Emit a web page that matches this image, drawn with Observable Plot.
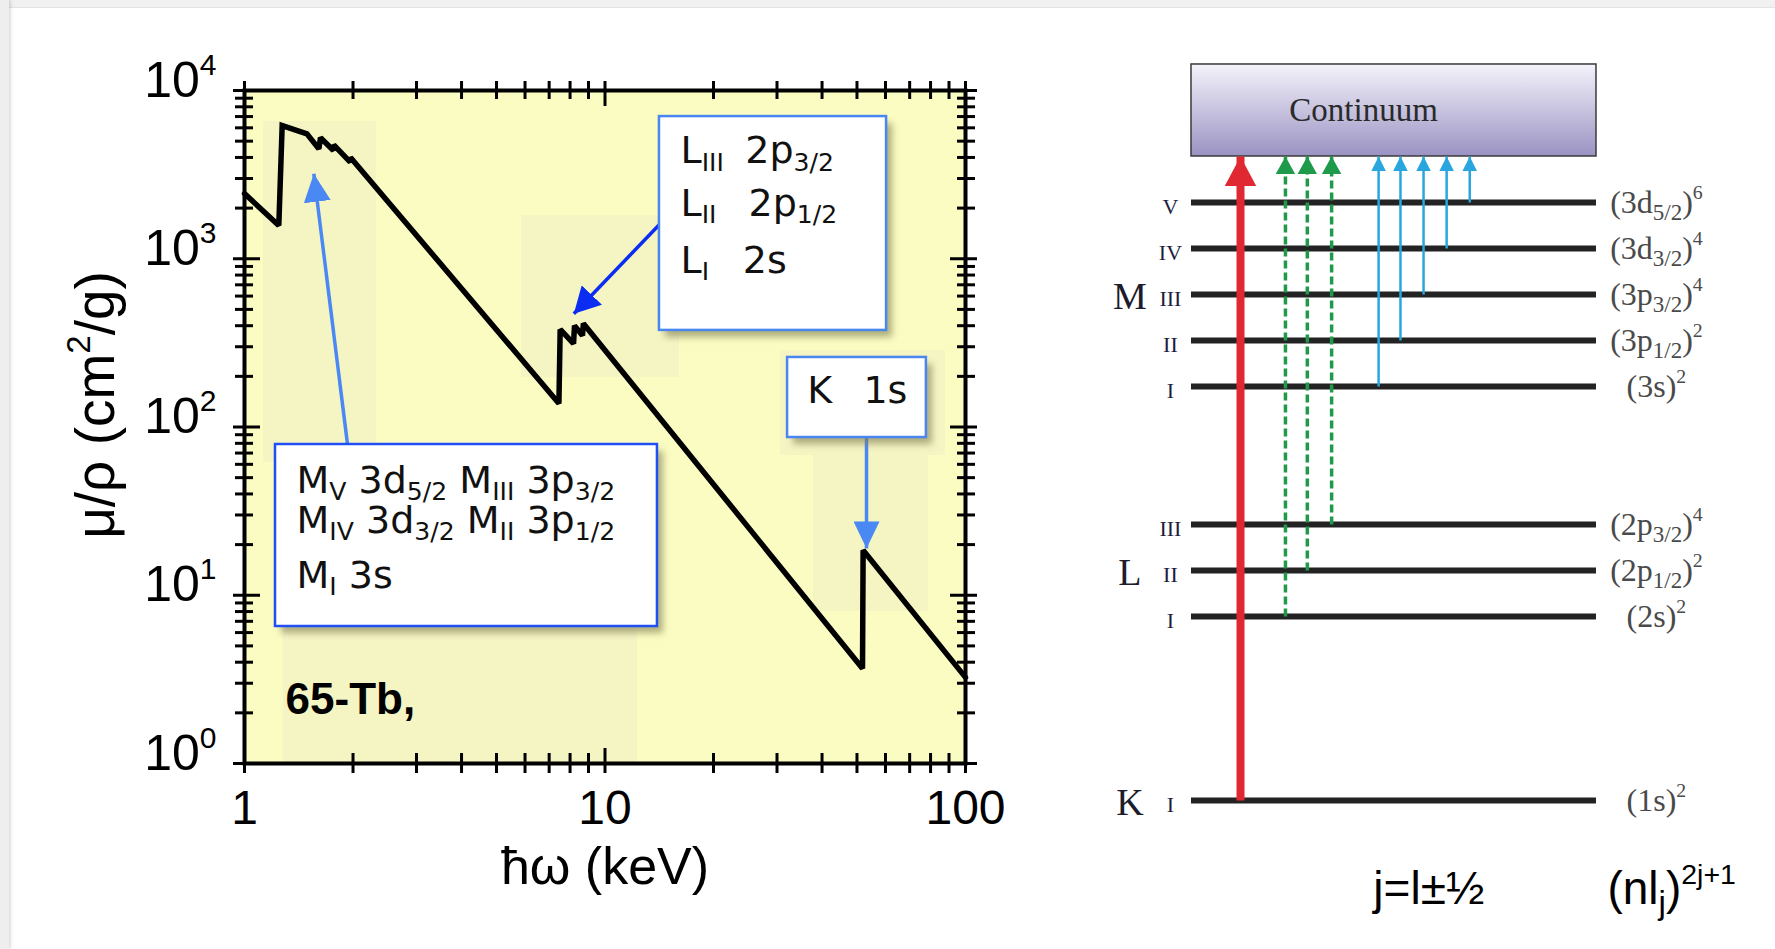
<!DOCTYPE html>
<html>
<head>
<meta charset="utf-8">
<script src="https://cdn.jsdelivr.net/npm/d3@7"></script>
<script src="https://cdn.jsdelivr.net/npm/@observablehq/plot@0.6"></script>
<style>
  html, body { margin: 0; padding: 0; background: #ffffff; }
  body { width: 1775px; height: 949px; position: relative; overflow: hidden; }
  .edge-top { position: absolute; left: 0; top: 0; width: 1775px; height: 7px; background: #f1f1f1; border-bottom: 1px solid #e4e4e4; }
  .edge-left { position: absolute; left: 0; top: 0; width: 9px; height: 949px; background: #eeeeee; box-shadow: 1px 0 4px rgba(0,0,0,0.2); }
  #left { position: absolute; left: 0; top: 0; }
  #right { position: absolute; left: 1000px; top: 0; }
</style>
</head>
<body>
<div class="edge-top"></div>
<div class="edge-left"></div>
<div id="left"></div>
<div id="right"></div>
<script>
// ---------------- DATA (left panel: 65-Tb mass attenuation) ----------------
const energyKeV = [1.0, 1.245, 1.272, 1.49, 1.608, 1.625, 1.765, 1.768, 1.965, 1.968, 7.45, 7.51, 8.18, 8.23, 8.66, 8.71, 51.8, 52.0, 100];
const muRho     = [2440, 1577, 6190, 5530, 4500, 5240, 4400, 4750, 3750, 4000, 138, 380, 313, 400, 350, 412, 3.67, 18.5, 3.25];

const yMajor = [1, 10, 100, 1000, 10000];
const xMajor = [1, 10, 100];
const minorMultipliers = [2, 3, 4, 5, 6, 7, 8, 9];

const xAxisLabel = "ħω (keV)";
const yAxisLabel = "μ/ρ (cm^{2}/g)";
const sampleLabel = "65-Tb,";
const sampleLabelAt = [1.30, 1.98];

// faint background zones (keV, cm2/g)
const zoneX1 = [1.129, 5.87, 1.28, 37.9, 30.7];
const zoneX2 = [2.32, 16.1, 12.3, 78.9, 88.0];
const zoneY1 = [61.5, 197, 1, 8.0, 67.7];
const zoneY2 = [6550, 1807, 6.34, 87.8, 285];

// callout boxes: M, L, K
const boxX1 = [1.219, 14.16, 32.1];
const boxX2 = [13.98, 60.4, 77.9];
const boxY1 = [6.52, 375, 86.6];
const boxY2 = [78.7, 7000, 259];

// callout arrows: M, L, K
const arrowX1 = [1.931, 14.16, 53.14];
const arrowY1 = [78.7, 1598, 86.6];
const arrowX2 = [1.557, 8.195, 53.14];
const arrowY2 = [3199, 471, 18.97];

// callout texts
const calloutText = ["M_{V} 3d_{5/2} M_{III} 3p_{3/2}", "M_{IV} 3d_{3/2} M_{II} 3p_{1/2}", "M_{I} 3s",
                     "L_{III}", "2p_{3/2}", "L_{II}", "2p_{1/2}", "L_{I}", "2s", "K", "1s"];
const calloutX = [1.394, 1.394, 1.394, 16.2, 24.5, 16.2, 25.0, 16.2, 24.1, 36.4, 52.1];
const calloutY = [40.8, 23.6, 11.1, 3683, 3683, 1807, 1807, 828, 828, 138, 138];

// ---------------- DATA (right panel: level diagram) ----------------
const levelShell  = ["K", "L", "L", "L", "M", "M", "M", "M", "M"];
const levelSub    = ["I", "I", "II", "III", "I", "II", "III", "IV", "V"];
const levelHeight = [0, 4, 5, 6, 9, 10, 11, 12, 13];
const levelConfig = ["(1s)^{2}", "(2s)^{2}", "(2p_{1/2})^{2}", "(2p_{3/2})^{4}", "(3s)^{2}", "(3p_{1/2})^{2}", "(3p_{3/2})^{4}", "(3d_{3/2})^{4}", "(3d_{5/2})^{6}"];
const arrowSlot   = [12.1, 23.2, 28.6, 34.6, 46.2, 51.6, 57.3, 63.0, 68.7];
const continuumSpan = [14, 16];
const lineSpan = [0, 100];
const continuumLabel = "Continuum";
const continuumLabelAt = 42.5;
const shellNames = ["K", "L", "M"];
const shellAtLevel = [0, 2, 6];   // index into the level arrays
const noteRule = "j=l±½";
const noteConfig = "(nl_{j})^{2j+1}";

// ---------------- helpers ----------------
const NS = "http://www.w3.org/2000/svg";
function triMarker(len, wid) {
  return (color, context) => {
    const doc = (context && context.document) || document;
    const m = doc.createElementNS(NS, "marker");
    m.setAttribute("viewBox", `0 ${-wid / 2} ${len} ${wid}`);
    m.setAttribute("refX", len);
    m.setAttribute("refY", 0);
    m.setAttribute("markerWidth", len);
    m.setAttribute("markerHeight", wid);
    m.setAttribute("markerUnits", "userSpaceOnUse");
    m.setAttribute("orient", "auto");
    const p = doc.createElementNS(NS, "path");
    p.setAttribute("d", `M0,${-wid / 2}L${len},0L0,${wid / 2}Z`);
    p.setAttribute("fill", color);
    p.setAttribute("stroke", "none");
    p.setAttribute("stroke-dasharray", "none");
    m.appendChild(p);
    return m;
  };
}

function richText(root, subScale = 0.66, subShift = 0.2, supScale = 0.6, supShift = 0.44) {
  root.querySelectorAll("text, tspan").forEach(el => {
    if (el.children.length) return;
    const s = el.textContent;
    if (!/[_^]\{/.test(s)) return;
    const fs = parseFloat(getComputedStyle(el).fontSize) || 16;
    const re = /([_^])\{([^}]*)\}/g;
    const parts = [];
    let last = 0, m;
    while ((m = re.exec(s))) {
      if (m.index > last) parts.push(["n", s.slice(last, m.index)]);
      parts.push([m[1] === "_" ? "sub" : "sup", m[2]]);
      last = re.lastIndex;
    }
    if (last < s.length) parts.push(["n", s.slice(last)]);
    el.textContent = "";
    let cur = 0;
    for (const [k, txt] of parts) {
      const ts = document.createElementNS(NS, "tspan");
      const target = k === "sub" ? subShift * fs : k === "sup" ? -supShift * fs : 0;
      ts.setAttribute("dy", (target - cur).toFixed(2));
      cur = target;
      if (k !== "n") ts.setAttribute("font-size", ((k === "sub" ? subScale : supScale) * fs).toFixed(1));
      ts.textContent = txt;
      el.appendChild(ts);
    }
  });
}

const yMinor = yMajor.slice(0, -1).flatMap(p => minorMultipliers.map(m => m * p));
const xMinor = xMajor.slice(0, -1).flatMap(p => minorMultipliers.map(m => m * p));
const idx = n => d3.range(n);

// ---------------- LEFT PANEL ----------------
const calloutFont = "'DejaVu Sans', Verdana, sans-serif";
const leftDefs = () => {
  const g = document.createElementNS(NS, "g");
  g.innerHTML = `<defs><filter id="softShadow" x="-10%" y="-10%" width="130%" height="130%"><feGaussianBlur stdDeviation="3.5"/></filter></defs>`;
  return g;
};
const tickStyle = {fill: "none", stroke: "#000", strokeWidth: 3};

const left = Plot.plot({
  width: 1000, height: 949,
  marginLeft: 244, marginRight: 35, marginTop: 90, marginBottom: 186,
  style: {fontFamily: "'Liberation Sans', Arial, sans-serif", background: "transparent", color: "#000", overflow: "visible"},
  x: {type: "log", domain: [1, 100]},
  y: {type: "log", domain: [1, 10000]},
  marks: [
    leftDefs,
    Plot.frame({fill: "#fbfcc2", stroke: "none"}),
    Plot.rect(idx(zoneX1.length), {x1: i => zoneX1[i], x2: i => zoneX2[i], y1: i => zoneY1[i], y2: i => zoneY2[i], fill: "#f5f4c3"}),
    Plot.line(idx(energyKeV.length), {x: i => energyKeV[i], y: i => muRho[i], stroke: "#000", strokeWidth: 5.5, strokeLinejoin: "miter", strokeMiterlimit: 2}),
    Plot.text([sampleLabel], {x: () => sampleLabelAt[0], y: () => sampleLabelAt[1], text: d => d, textAnchor: "start", lineAnchor: "bottom", fontSize: 44, fontWeight: "bold", fill: "#000"}),
    // arrows (tails tucked under boxes)
    Plot.link([0], {x1: i => arrowX1[i], y1: i => arrowY1[i], x2: i => arrowX2[i], y2: i => arrowY2[i], stroke: "#4a88f4", strokeWidth: 3.5, markerEnd: triMarker(28, 27)}),
    Plot.link([1], {x1: i => arrowX1[i], y1: i => arrowY1[i], x2: i => arrowX2[i], y2: i => arrowY2[i], stroke: "#0b2df2", strokeWidth: 3.5, markerEnd: triMarker(26, 28)}),
    Plot.link([2], {x1: i => arrowX1[i], y1: i => arrowY1[i], x2: i => arrowX2[i], y2: i => arrowY2[i], stroke: "#4a88f4", strokeWidth: 3.5, markerEnd: triMarker(27, 26)}),
    // box shadows
    Plot.rect(idx(boxX1.length), {x1: i => boxX1[i], x2: i => boxX2[i], y1: i => boxY1[i], y2: i => boxY2[i], fill: "#7d7a4e", fillOpacity: 0.6, dx: 6, dy: 7}),
    // boxes
    Plot.rect([0], {x1: i => boxX1[i], x2: i => boxX2[i], y1: i => boxY1[i], y2: i => boxY2[i], fill: "#ffffff", stroke: "#1f4ff5", strokeWidth: 2.5}),
    Plot.rect([1, 2], {x1: i => boxX1[i], x2: i => boxX2[i], y1: i => boxY1[i], y2: i => boxY2[i], fill: "#ffffff", stroke: "#4a86f0", strokeWidth: 2.5}),
    Plot.text(idx(calloutText.length), {x: i => calloutX[i], y: i => calloutY[i], text: i => calloutText[i], textAnchor: "start", lineAnchor: "bottom", fontSize: 38, fontFamily: calloutFont, fill: "#111"}),
    // ticks crossing the frame on all four sides
    Plot.axisY(yMajor, {anchor: "left", tickSize: 27, dx: 16, ...tickStyle}),
    Plot.axisY(yMinor, {anchor: "left", tickSize: 18, dx: 9, ...tickStyle}),
    Plot.axisY(yMajor, {anchor: "right", tickSize: 27, dx: -16, ...tickStyle}),
    Plot.axisY(yMinor, {anchor: "right", tickSize: 18, dx: -9, ...tickStyle}),
    Plot.axisX(xMajor, {anchor: "bottom", tickSize: 25, dy: -15, ...tickStyle}),
    Plot.axisX(xMinor, {anchor: "bottom", tickSize: 20, dy: -10, ...tickStyle}),
    Plot.axisX(xMajor, {anchor: "top", tickSize: 25, dy: 15, ...tickStyle}),
    Plot.axisX(xMinor, {anchor: "top", tickSize: 18, dy: 8, ...tickStyle}),
    // tick labels
    Plot.axisY(yMajor, {anchor: "left", tickSize: 0, tickPadding: 28, dy: -10, fontSize: 50, tickFormat: d => `10^{${Math.round(Math.log10(d))}}`, label: null}),
    Plot.axisX(xMajor, {anchor: "bottom", tickSize: 0, tickPadding: 26, fontSize: 48, tickFormat: d => `${d}`, label: null}),
    // axis titles
    Plot.text([yAxisLabel], {frameAnchor: "left", dx: -148, dy: -22, rotate: -90, text: d => d, fontSize: 55, textAnchor: "middle", lineAnchor: "middle", fill: "#000"}),
    Plot.text([xAxisLabel], {frameAnchor: "bottom", dy: 120, text: d => d, fontSize: 52, textAnchor: "middle", lineAnchor: "bottom", fill: "#000"}),
    Plot.frame({stroke: "#000", strokeWidth: 4})
  ]
});
document.getElementById("left").appendChild(left);
left.querySelectorAll('g[fill="#7d7a4e"]').forEach(g => g.setAttribute("filter", "url(#softShadow)"));
richText(left);

// ---------------- RIGHT PANEL ----------------
const serif = "'Liberation Serif', 'DejaVu Serif', serif";
const rightDefs = () => {
  const g = document.createElementNS(NS, "g");
  g.innerHTML = `<defs><linearGradient id="contGrad" x1="0" y1="0" x2="0" y2="1">
    <stop offset="0" stop-color="#f4f3fb"/><stop offset="1" stop-color="#9a93c3"/></linearGradient></defs>`;
  return g;
};
const right = Plot.plot({
  width: 775, height: 949, margin: 0,
  style: {fontFamily: serif, background: "transparent", color: "#222", overflow: "visible"},
  x: {domain: [-47.16, 144.2], axis: null},
  y: {domain: [-3.239, 17.391], axis: null},
  marks: [
    rightDefs,
    Plot.rect([0], {x1: () => lineSpan[0], x2: () => lineSpan[1], y1: () => continuumSpan[0], y2: () => continuumSpan[1], fill: "url(#contGrad)", stroke: "#3a3a3a", strokeWidth: 1.5}),
    Plot.text([continuumLabel], {x: () => continuumLabelAt, y: () => (continuumSpan[0] + continuumSpan[1]) / 2, text: d => d, fontSize: 33, fill: "#2a2a2a"}),
    Plot.ruleY(idx(levelHeight.length), {y: i => levelHeight[i], x1: () => lineSpan[0], x2: () => lineSpan[1], stroke: "#232323", strokeWidth: 6}),
    Plot.link([0], {x1: i => arrowSlot[i], x2: i => arrowSlot[i], y1: i => levelHeight[i], y2: () => continuumSpan[0], stroke: "#e02832", strokeWidth: 8, markerEnd: triMarker(30, 32)}),
    Plot.link([1, 2, 3], {x1: i => arrowSlot[i], x2: i => arrowSlot[i], y1: i => levelHeight[i], y2: () => continuumSpan[0], stroke: "#1f9a4b", strokeWidth: 3.5, strokeDasharray: "8,4", markerEnd: triMarker(18, 20)}),
    Plot.link([4, 5, 6, 7, 8], {x1: i => arrowSlot[i], x2: i => arrowSlot[i], y1: i => levelHeight[i], y2: () => continuumSpan[0], stroke: "#29a6de", strokeWidth: 2.5, markerEnd: triMarker(15, 15)}),
    Plot.text(idx(levelHeight.length), {x: () => -5.2, y: i => levelHeight[i], text: i => levelSub[i], fontSize: 22, dy: 4, fill: "#1c1c3c", textAnchor: "middle"}),
    Plot.text(idx(shellNames.length), {x: () => -15.2, y: i => levelHeight[shellAtLevel[i]], text: i => shellNames[i], fontSize: 38, dy: 2, fill: "#1c1c2c", textAnchor: "middle"}),
    Plot.text(idx(levelHeight.length), {x: () => 114.8, y: i => levelHeight[i], text: i => levelConfig[i], fontSize: 32, fill: "#4a4a4a", textAnchor: "middle"}),
    Plot.text([noteRule], {x: () => 44.9, y: () => -2.24, text: d => d, fontSize: 46, fontFamily: "'Liberation Sans', Arial, sans-serif", fill: "#000", textAnchor: "start", lineAnchor: "bottom"}),
    Plot.text([noteConfig], {x: () => 102.7, y: () => -2.24, text: d => d, fontSize: 46, fontFamily: "'Liberation Sans', Arial, sans-serif", fill: "#000", textAnchor: "start", lineAnchor: "bottom"})
  ]
});
document.getElementById("right").appendChild(right);
richText(right, 0.72, 0.22, 0.62, 0.42);
</script>
</body>
</html>
